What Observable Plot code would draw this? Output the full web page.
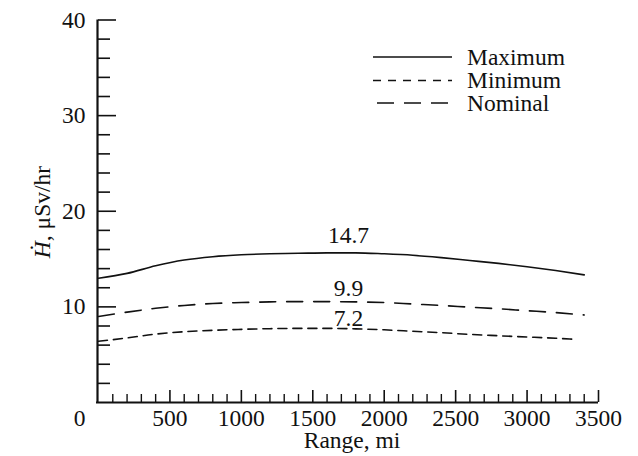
<!DOCTYPE html>
<html><head><meta charset="utf-8">
<script src="https://cdn.jsdelivr.net/npm/d3@7"></script>
<script src="https://cdn.jsdelivr.net/npm/@observablehq/plot@0.6"></script>
<style>body{margin:0;background:#fff} svg{display:block}</style>
</head><body><div id="chart"></div>
<script>
// ---- data ----
const seriesNames = ["Maximum", "Minimum", "Nominal"];
const maxRange = [0, 200, 400, 600, 800, 1000, 1200, 1400, 1600, 1800, 2000, 2200, 2400, 2600, 2800, 3000, 3200, 3400];
const maxVals  = [13.0, 13.5, 14.3, 14.9, 15.25, 15.45, 15.55, 15.6, 15.65, 15.65, 15.55, 15.4, 15.15, 14.85, 14.55, 14.2, 13.8, 13.35];
const minRange = [0, 200, 400, 600, 800, 1000, 1200, 1400, 1600, 1800, 2000, 2200, 2400, 2600, 2800, 3000, 3200, 3350];
const minVals  = [6.4, 6.75, 7.15, 7.4, 7.55, 7.65, 7.72, 7.75, 7.75, 7.7, 7.6, 7.45, 7.3, 7.12, 6.98, 6.85, 6.72, 6.6];
const nomRange = [0, 200, 400, 600, 800, 1000, 1200, 1400, 1600, 1800, 2000, 2200, 2400, 2600, 2800, 3000, 3200, 3400];
const nomVals  = [9.0, 9.45, 9.85, 10.15, 10.35, 10.45, 10.52, 10.55, 10.55, 10.52, 10.45, 10.3, 10.15, 9.97, 9.8, 9.6, 9.4, 9.15];
const annText  = ["14.7", "9.9", "7.2"];
const annRange = [1750, 1750, 1750];
const annValue = [17.45, 11.95, 8.75];
const xTickLabels = [500, 1000, 1500, 2000, 2500, 3000, 3500];
const yTickLabels = [10, 20, 30, 40];
const xMajorTicks = [500, 1000, 1500, 2000, 2500, 3000, 3500];
const xMinorTicks = d3.range(100, 3500, 100).filter(v => v % 500 !== 0);
const yMajorTicks = [10, 20, 30, 40];
const yMinorTicks = d3.range(2, 40, 2).filter(v => v % 10 !== 0);
const xLabel = "Range, mi";

// ---- build ----
const toRows = (r, v) => r.map((x, i) => ({x, y: v[i]}));
const rowsMax = toRows(maxRange, maxVals);
const rowsMin = toRows(minRange, minVals);
const rowsNom = toRows(nomRange, nomVals);
const ann = annText.map((t, i) => ({t, x: annRange[i], y: annValue[i]}));

const FONT = "Liberation Serif, Times New Roman, serif";
const INK = "#111";
const W = 638, H = 456, ML = 98, MR = 40, MT = 19.5, MB = 54;
const FW = W - ML - MR, FH = H - MT - MB;
const dashes = {Maximum: null, Minimum: "9,6", Nominal: "16,11"};
const txt = {fontFamily: FONT, fontSize: 23.5, fill: INK};

const plot = Plot.plot({
  width: W, height: H,
  marginLeft: ML, marginRight: MR, marginTop: MT, marginBottom: MB,
  style: {fontFamily: FONT, fontSize: "23.5px", color: INK, background: "#fff", overflow: "visible"},
  x: {domain: [0, 3500]},
  y: {domain: [0, 40]},
  marks: [
    Plot.tickY(yMinorTicks, {insetRight: FW - 12, stroke: INK, strokeWidth: 1.6}),
    Plot.tickY(yMajorTicks, {insetRight: FW - 18, stroke: INK, strokeWidth: 1.6}),
    Plot.tickX(xMinorTicks, {insetTop: FH - 8, stroke: INK, strokeWidth: 1.4}),
    Plot.tickX(xMajorTicks, {insetTop: FH - 12, stroke: INK, strokeWidth: 1.6}),
    Plot.ruleX([0], {stroke: INK, strokeWidth: 2.2, dx: -1}),
    Plot.ruleY([0], {stroke: INK, strokeWidth: 2.2, insetLeft: -2}),
    Plot.axisY(yTickLabels, {tickSize: 0, tickPadding: 13, label: null, tickFormat: d => String(d), ...txt}),
    Plot.axisX(xTickLabels, {tickSize: 0, tickPadding: 7, label: null, tickFormat: d => String(d), ...txt}),
    Plot.text([0], {x: d => d, y: () => 0, text: d => String(d), dx: -19, dy: 7, lineAnchor: "top", ...txt}),
    Plot.line(rowsMax, {x: "x", y: "y", curve: "monotone-x", stroke: INK, strokeWidth: 1.6}),
    Plot.line(rowsNom, {x: "x", y: "y", curve: "monotone-x", stroke: INK, strokeWidth: 1.6, strokeDasharray: dashes.Nominal}),
    Plot.line(rowsMin, {x: "x", y: "y", curve: "monotone-x", stroke: INK, strokeWidth: 1.6, strokeDasharray: dashes.Minimum}),
    Plot.text(ann, {x: "x", y: "y", text: "t", ...txt})
  ]
});

const svg = d3.select(plot);
// y-axis label with italic H-dot
const yl = svg.append("text")
  .attr("transform", "translate(50,212) rotate(-90)")
  .attr("text-anchor", "middle")
  .attr("font-family", FONT).attr("font-size", 23.5).attr("fill", INK);
yl.append("tspan").attr("font-style", "italic").text("\u1E22");
yl.append("tspan").text(", \u03BCSv/hr");
// x-axis label
svg.append("text")
  .attr("x", 352).attr("y", 448)
  .attr("text-anchor", "middle")
  .attr("font-family", FONT).attr("font-size", 23.5).attr("fill", INK)
  .text(xLabel);
// legend
const lg = svg.append("g");
seriesNames.forEach((name, i) => {
  const y = [57, 80.5, 103][i];
  lg.append("line").attr("x1", name === "Nominal" ? 377 : 373).attr("x2", 452)
    .attr("y1", y).attr("y2", y)
    .attr("stroke", INK).attr("stroke-width", 1.6)
    .attr("stroke-dasharray", name === "Minimum" ? "8,7" : name === "Nominal" ? "17,10" : null);
  lg.append("text").attr("x", 467).attr("y", y).attr("dy", "0.33em")
    .attr("text-anchor", "start")
    .attr("font-family", FONT).attr("font-size", 23.5).attr("fill", INK)
    .text(name);
});

document.getElementById("chart").append(plot);
</script>
</body></html>
